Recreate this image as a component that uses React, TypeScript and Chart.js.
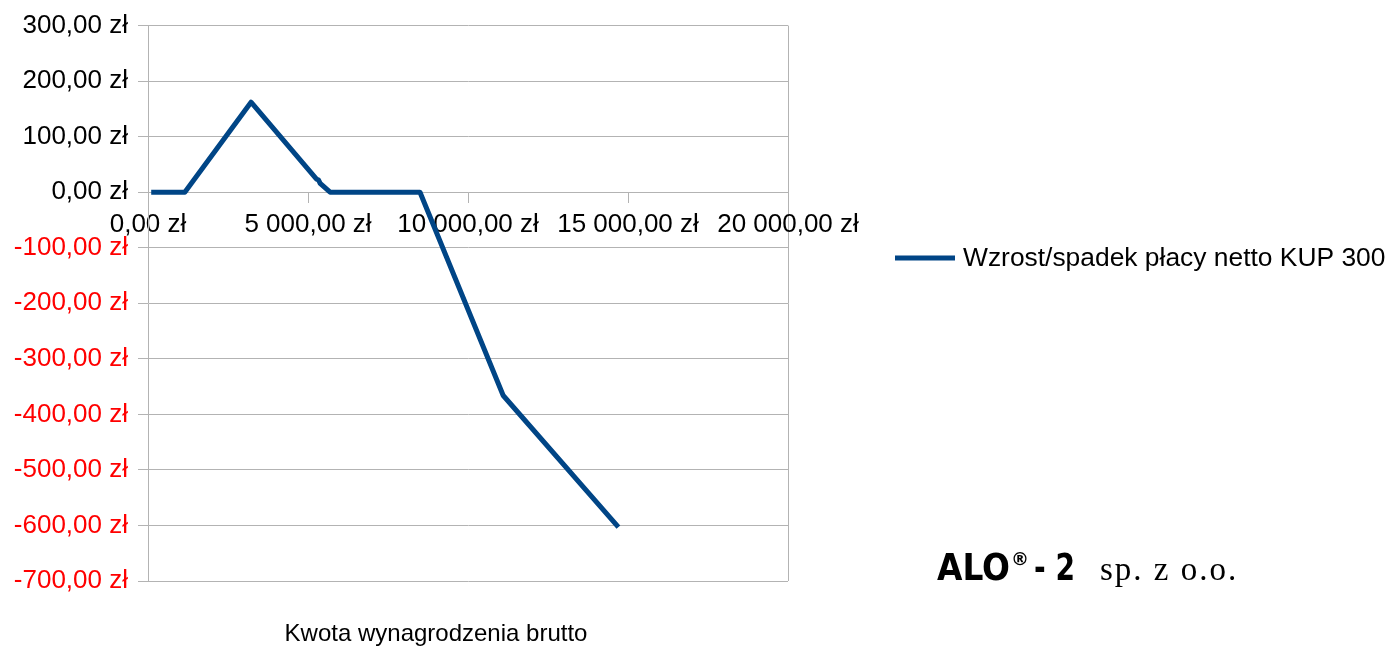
import React, { useEffect, useRef } from "react";
import { Chart, registerables } from "chart.js";

Chart.register(...registerables);

// ---- data ----
const grossSalary: number[] = [100, 1150, 3220, 5260, 5330, 5380, 5690, 8500, 11100, 14700];
const netChange: number[] = [0, 0, 162, 24, 22, 16, 0, 0, -366, -603];
const seriesLabel = "Wzrost/spadek płacy netto KUP 300";
const xAxisTitle = "Kwota wynagrodzenia brutto";
const yTickValues: number[] = [300, 200, 100, 0, -100, -200, -300, -400, -500, -600, -700];
const xTickValues: number[] = [0, 5000, 10000, 15000, 20000];
const logoMain = "ALO";
const logoMark = "®";
const logoNum = "- 2";
const logoSuffix = "sp. z o.o.";

const LINE_COLOR = "#004586";
const GRID = "#b3b3b3";
const FONT = "'Liberation Sans', Arial, sans-serif";

function formatPLN(v: number): string {
  const neg = v < 0;
  const [intPart, dec] = Math.abs(v).toFixed(2).split(".");
  const grouped = intPart.replace(/\B(?=(\d{3})+(?!\d))/g, " ");
  return (neg ? "-" : "") + grouped + "," + dec + " zł";
}

const extrasPlugin = {
  id: "extras",
  afterDraw(chart: any) {
    const ctx = chart.ctx as CanvasRenderingContext2D;
    ctx.save();
    // legend
    const ds = chart.data.datasets[0];
    ctx.strokeStyle = ds.borderColor;
    ctx.lineWidth = 5;
    ctx.lineCap = "butt";
    ctx.beginPath();
    ctx.moveTo(895, 258);
    ctx.lineTo(955, 258);
    ctx.stroke();
    ctx.fillStyle = "#000";
    ctx.font = `26.4px ${FONT}`;
    ctx.textAlign = "left";
    ctx.textBaseline = "middle";
    ctx.fillText(ds.label, 963, 259);

    // axis title
    ctx.font = `24px ${FONT}`;
    ctx.textAlign = "center";
    ctx.fillText(xAxisTitle, 436, 634);

    // logo
    ctx.textAlign = "left";
    ctx.textBaseline = "alphabetic";
    ctx.font = `bold 38px 'DejaVu Sans Condensed', 'DejaVu Sans', sans-serif`;
    let w = ctx.measureText(logoMain).width;
    ctx.save();
    ctx.translate(937, 580);
    ctx.scale(73 / w, 1);
    ctx.fillText(logoMain, 0, 0);
    ctx.restore();
    ctx.font = `bold 18px 'DejaVu Sans', sans-serif`;
    ctx.fillText(logoMark, 1011, 565);
    ctx.font = `bold 38px 'DejaVu Sans Condensed', 'DejaVu Sans', sans-serif`;
    w = ctx.measureText(logoNum).width;
    ctx.save();
    ctx.translate(1034, 580);
    ctx.scale(41 / w, 1);
    ctx.fillText(logoNum, 0, 0);
    ctx.restore();
    ctx.font = `33px 'Liberation Serif', 'DejaVu Serif', serif`;
    (ctx as any).letterSpacing = "2px";
    ctx.fillText(logoSuffix, 1100, 580);
    ctx.restore();
  },
};

export default function App() {
  const canvasRef = useRef<HTMLCanvasElement | null>(null);

  useEffect(() => {
    const canvas = canvasRef.current;
    if (!canvas) return;
    const points = grossSalary.map((x, i) => ({ x, y: netChange[i] }));
    const chart = new Chart(canvas, {
      type: "line",
      data: {
        datasets: [
          {
            label: seriesLabel,
            data: points,
            borderColor: LINE_COLOR,
            backgroundColor: LINE_COLOR,
            borderWidth: 5,
            pointRadius: 0,
            tension: 0,
            borderJoinStyle: "round",
            fill: false,
          },
        ],
      },
      options: {
        animation: false,
        responsive: false,
        devicePixelRatio: 1,
        layout: { padding: { left: 0, top: 25, right: 601, bottom: 65 } },
        plugins: { legend: { display: false }, tooltip: { enabled: false } },
        scales: {
          x: {
            type: "linear",
            min: 0,
            max: 20000,
            position: { y: 0 } as any,
            afterBuildTicks: (s: any) => {
              s.ticks = xTickValues.map((v) => ({ value: v }));
            },
            afterFit: (s: any) => {
              s.height = 0;
            },
            ticks: {
              callback: (v: any) => formatPLN(Number(v)),
              font: { size: 26, family: FONT },
              color: "#000",
              padding: 7,
              maxRotation: 0,
              autoSkip: false,
            },
            grid: {
              color: (c: any) => (c.tick && c.tick.value === 20000 ? GRID : "rgba(0,0,0,0)"),
              tickColor: GRID,
              tickLength: 10,
              lineWidth: 1,
            },
            border: { color: GRID, width: 1 },
          },
          y: {
            type: "linear",
            min: -700,
            max: 300,
            afterBuildTicks: (s: any) => {
              s.ticks = yTickValues.map((v) => ({ value: v }));
            },
            afterFit: (s: any) => {
              s.width = 148;
            },
            ticks: {
              callback: (v: any) => formatPLN(Number(v)),
              font: { size: 26, family: FONT },
              color: (c: any) => (c.tick && c.tick.value < 0 ? "#ff0000" : "#000"),
              padding: 10,
            },
            grid: { color: GRID, tickLength: 10, lineWidth: 1 },
            border: { color: GRID, width: 1 },
          },
        },
      },
      plugins: [extrasPlugin],
    });
    return () => chart.destroy();
  }, []);

  return (
    <div style={{ position: "absolute", left: 0, top: 0, width: 1389, height: 646, background: "#fff" }}>
      <canvas ref={canvasRef} width={1389} height={646} style={{ width: 1389, height: 646, display: "block" }} />
    </div>
  );
}
